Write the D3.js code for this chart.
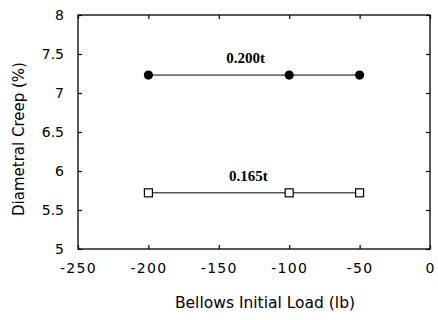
<!DOCTYPE html>
<html><head><meta charset="utf-8">
<script src="https://cdn.jsdelivr.net/npm/d3@7"></script>
<style>body{margin:0;background:#fff}</style>
</head><body>
<svg id="c" width="438" height="320"></svg>
<script>
const loads = [-200, -100, -50];
const creep200 = [7.23, 7.23, 7.23];
const creep165 = [5.72, 5.72, 5.72];
const xTicks = [-250, -200, -150, -100, -50, 0];
const yTicks = [5, 5.5, 6, 6.5, 7, 7.5, 8];
const labels = [{text: "0.200t", x: -131, y: 7.39}, {text: "0.165t", x: -129, y: 5.87}];

const svg = d3.select("#c");
const L = 78, R = 430, T = 15, B = 249;
const x = d3.scaleLinear().domain([-250, 0]).range([L, R]);
const y = d3.scaleLinear().domain([5, 8]).range([B, T]);
const font = "'DejaVu Sans', 'Liberation Sans', sans-serif";
const fmtX = d => String(d);

svg.append("rect").attr("x", L).attr("y", T).attr("width", R - L).attr("height", B - T)
  .attr("fill", "none").attr("stroke", "#000").attr("stroke-width", 1.3);

const ax = svg.append("g").attr("transform", `translate(0,${B})`)
  .call(d3.axisBottom(x).tickValues(xTicks).tickSizeInner(-4).tickSizeOuter(0).tickPadding(14).tickFormat(fmtX));
const axT = svg.append("g").attr("transform", `translate(0,${T})`)
  .call(d3.axisTop(x).tickValues(xTicks).tickSizeInner(-4).tickSizeOuter(0).tickFormat(""));
const ay = svg.append("g").attr("transform", `translate(${L},0)`)
  .call(d3.axisLeft(y).tickValues(yTicks).tickSizeInner(-4).tickSizeOuter(0).tickPadding(14).tickFormat(d => String(d)));
const ayR = svg.append("g").attr("transform", `translate(${R},0)`)
  .call(d3.axisRight(y).tickValues(yTicks).tickSizeInner(-4).tickSizeOuter(0).tickFormat(""));
[ax, axT, ay, ayR].forEach(g => {
  g.select(".domain").remove();
  g.selectAll("line").attr("stroke", "#000").attr("stroke-width", 1.2);
  g.selectAll("text").attr("font-family", font).attr("font-size", 14).attr("fill", "#000");
});
ax.selectAll("text").attr("letter-spacing", 1.3);

const line = d3.line().x(d => x(d[0])).y(d => y(d[1]));
const s200 = loads.map((l, i) => [l, creep200[i]]);
const s165 = loads.map((l, i) => [l, creep165[i]]);
svg.append("path").attr("d", line(s200)).attr("fill", "none").attr("stroke", "#000").attr("stroke-width", 1);
svg.append("path").attr("d", line(s165)).attr("fill", "none").attr("stroke", "#000").attr("stroke-width", 1);
svg.selectAll(".dot").data(s200).join("circle")
  .attr("cx", d => x(d[0])).attr("cy", d => y(d[1])).attr("r", 4.6).attr("fill", "#000");
svg.selectAll(".sq").data(s165).join("rect")
  .attr("x", d => x(d[0]) - 4).attr("y", d => y(d[1]) - 4).attr("width", 8).attr("height", 8)
  .attr("fill", "#fff").attr("stroke", "#000").attr("stroke-width", 1.2);

svg.selectAll(".lab").data(labels).join("text")
  .attr("x", d => x(d.x)).attr("y", d => y(d.y)).attr("text-anchor", "middle")
  .attr("font-family", "'Liberation Serif', 'DejaVu Serif', serif").attr("font-weight", "bold").attr("font-size", 15)
  .text(d => d.text);

svg.append("text").attr("x", 265).attr("y", 308).attr("text-anchor", "middle")
  .attr("font-family", font).attr("font-size", 15.5).text("Bellows Initial Load (lb)");
svg.append("text").attr("transform", `translate(24,139) rotate(-90)`).attr("text-anchor", "middle")
  .attr("font-family", font).attr("font-size", 15).text("Diametral Creep (%)");
</script>
</body></html>
